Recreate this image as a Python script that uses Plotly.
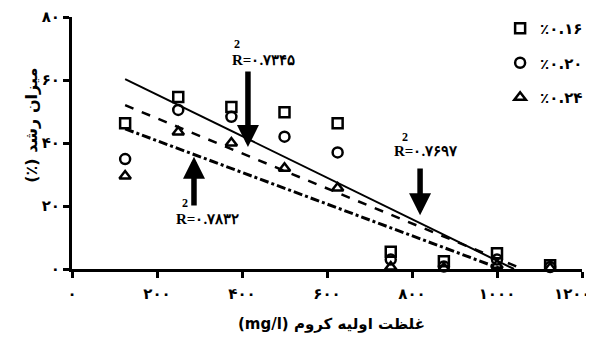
import plotly.graph_objects as go

# ---- data ----
x_conc = [125, 250, 375, 500, 625, 750, 875, 1000, 1125]
s016 = [46.3, 54.6, 51.4, 49.8, 46.3, 5.5, 2.5, 5.0, 1.2]
s020 = [34.9, 50.5, 48.3, 42.0, 37.0, 3.0, 0.8, 3.0, 0.6]
s024 = [29.5, 43.5, 40.0, 32.0, 25.7, 0.6, 0.3, 1.2, 0.3]

series_names = ["٪۰.۱۶", "٪۰.۲۰", "٪۰.۲۴"]

# trend lines (endpoints)
trend016_x = [125, 1040]
trend016_y = [60.3, 0.0]
trend020_x = [125, 1060]
trend020_y = [52.0, 0.0]
trend024_x = [125, 1010]
trend024_y = [44.5, 0.0]

x_ticks = [0, 200, 400, 600, 800, 1000, 1200]
x_tick_labels = ["۰", "۲۰۰", "۴۰۰", "۶۰۰", "۸۰۰", "۱۰۰۰", "۱۲۰۰"]
y_ticks = [0, 20, 40, 60, 80]
y_tick_labels = ["۰", "۲۰", "۴۰", "۶۰", "۸۰"]

r2_labels = ["R=۰.۷۳۴۵", "R=۰.۷۶۹۷", "R=۰.۷۸۳۲"]
# arrow tip (x, y) and tail y
r2_arrow_x = [414, 819, 287]
r2_arrow_tip = [38.7, 17.1, 35.6]
r2_arrow_tail = [63.2, 32.4, 19.7]
r2_text_x = [450, 832, 318]
r2_text_y = [66.5, 37.6, 16.0]
r2_sup_x = [388, 783, 266]
r2_sup_y = [71.5, 42.0, 21.0]

x_title = "(mg/l) غلظت اولیه کروم"
y_title = "(٪) میزان رشد"

fa_font = "DejaVu Sans"
serif = "Liberation Serif"

fig = go.Figure()

fig.add_trace(go.Scatter(x=trend016_x, y=trend016_y, mode="lines",
                         line=dict(color="black", width=2, dash="solid"),
                         showlegend=False, hoverinfo="skip"))
fig.add_trace(go.Scatter(x=trend020_x, y=trend020_y, mode="lines",
                         line=dict(color="black", width=2.5, dash="dash"),
                         showlegend=False, hoverinfo="skip"))
fig.add_trace(go.Scatter(x=trend024_x, y=trend024_y, mode="lines",
                         line=dict(color="black", width=3, dash="dashdot"),
                         showlegend=False, hoverinfo="skip"))

symbols = ["square-open", "circle-open", "triangle-up-open"]
for i, (vals, sym) in enumerate(zip([s016, s020, s024], symbols)):
    fig.add_trace(go.Scatter(
        x=x_conc, y=vals, mode="markers", name="<b>" + series_names[i] + "</b>",
        marker=dict(symbol=sym, size=10, color="black",
                    line=dict(color="black", width=2.5)),
        cliponaxis=False, legendgroup=str(i)))

for i in range(3):
    fig.add_annotation(x=r2_arrow_x[i], y=r2_arrow_tip[i],
                       ax=r2_arrow_x[i], ay=r2_arrow_tail[i],
                       axref="x", ayref="y", xref="x", yref="y",
                       text="", showarrow=True, arrowhead=2,
                       arrowsize=0.8, arrowwidth=5.5, arrowcolor="black")
    fig.add_annotation(x=r2_text_x[i], y=r2_text_y[i], xref="x", yref="y",
                       text="<b>" + r2_labels[i] + "</b>", showarrow=False,
                       font=dict(family=serif, size=15, color="black"))
    fig.add_annotation(x=r2_sup_x[i], y=r2_sup_y[i], xref="x", yref="y",
                       text="<b>2</b>", showarrow=False,
                       font=dict(family=serif, size=12, color="black"))

# axis titles as annotations (page body has an 8px offset)
fig.add_annotation(xref="paper", yref="paper", x=-0.102, y=0.57,
                   text="<b>" + y_title + "</b>", textangle=-90, showarrow=False,
                   font=dict(family=fa_font, size=16, color="black"))
fig.add_annotation(xref="paper", yref="paper", x=0.508, y=-0.26,
                   text="<b>" + x_title + "</b>", showarrow=False,
                   font=dict(family=fa_font, size=15, color="black"))

# last x tick label drawn right-aligned so it stays inside the window
tick_text_shown = ["<b>" + t + "</b>" for t in x_tick_labels[:-1]] + [""]
fig.add_annotation(x=x_ticks[-1], xref="x", y=0, yref="paper",
                   xanchor="right", yanchor="middle", xshift=11, yshift=-25,
                   text="<b>" + x_tick_labels[-1] + "</b>", showarrow=False,
                   font=dict(family=fa_font, size=15, color="black"))

fig.update_layout(
    width=586, height=333,
    margin=dict(l=64, r=12, t=9, b=72, autoexpand=False),
    plot_bgcolor="white", paper_bgcolor="white",
    font=dict(family=fa_font, color="black", size=13),
    legend=dict(x=1.012, y=1.02, xanchor="right", yanchor="top",
                xref="paper", yref="paper", itemwidth=30,
                font=dict(family=fa_font, size=15, color="black"),
                tracegroupgap=12, bgcolor="rgba(0,0,0,0)"),
    showlegend=True,
)

fig.update_xaxes(range=[0, 1200], tickvals=x_ticks, ticktext=tick_text_shown,
                 showline=True, linecolor="black", linewidth=3,
                 ticks="outside", ticklen=6, tickwidth=2.5, tickcolor="black",
                 showgrid=False, zeroline=False, automargin=False,
                 ticklabeloverflow="allow", ticklabelstandoff=3,
                 tickfont=dict(family=fa_font, size=15, color="black"))
fig.update_yaxes(range=[0, 80], tickvals=y_ticks,
                 ticktext=["<b>" + t + "</b>" for t in y_tick_labels],
                 showline=True, linecolor="black", linewidth=3,
                 ticks="outside", ticklen=6, tickwidth=2.5, tickcolor="black",
                 showgrid=False, zeroline=False, automargin=False,
                 ticklabeloverflow="allow",
                 tickfont=dict(family=fa_font, size=15, color="black"))

fig.write_html("out.html")
